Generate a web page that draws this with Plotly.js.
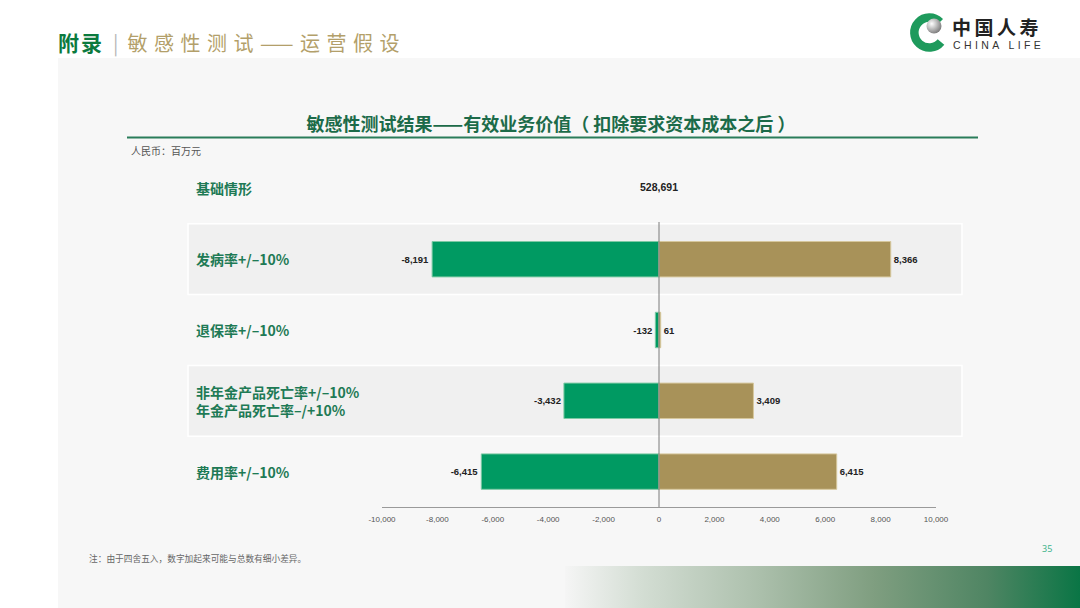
<!DOCTYPE html>
<html>
<head>
<meta charset="utf-8">
<script src="https://cdn.plot.ly/plotly-3.0.1.min.js"></script>
<style>
  html, body { margin: 0; padding: 0; background: #ffffff; }
  #wrap { position: relative; width: 1080px; height: 608px; overflow: hidden; background: #ffffff; }
  #panel { position: absolute; left: 58px; top: 58px; right: 0; bottom: 0; background: #f7f7f7; }
  #grad { position: absolute; left: 565px; top: 566px; right: 0; bottom: 0;
          background: linear-gradient(to right, #f5f5f5 0%, #d3ddd3 15%, #abbfab 38%, #7f9e80 60%, #4f8563 82%, #0a7545 100%); }
  #chart { position: absolute; left: 0; top: 0; width: 1080px; height: 608px; }
  #hdr { position: absolute; left: 58px; top: 27px; height: 30px; white-space: nowrap;
         font-family: "Noto Sans CJK SC", sans-serif; }
  #hdr .a { font-size: 21px; font-weight: 700; color: #0b7a3e; letter-spacing: 2px; }
  #hdr .b { font-size: 20px; color: #b8b8b8; margin: 0 9px 0 9px; }
  #hdr .c { font-size: 20px; color: #b39f6a; letter-spacing: 6.5px; }
  #logo { position: absolute; left: 900px; top: 8px; }
</style>
</head>
<body>
<div id="wrap">
  <div id="panel"></div>
  <div id="grad"></div>
  <div id="chart"></div>
  <div id="hdr"><span class="a">附录</span><span class="b">|</span><span class="c">敏感性测试——运营假设</span></div>
  <svg id="logo" width="170" height="48" viewBox="0 0 170 48">
    <defs>
      <radialGradient id="ball" cx="0.35" cy="0.35" r="0.7">
        <stop offset="0" stop-color="#ffffff"/>
        <stop offset="0.5" stop-color="#bdbdbd"/>
        <stop offset="1" stop-color="#7a7a7a"/>
      </radialGradient>
    </defs>
    <path d="M 40 14 A 15 15 0 1 0 41 34" fill="none" stroke="#1e9a5c" stroke-width="8.5" stroke-linecap="butt"/>
    <circle cx="34" cy="18" r="7.5" fill="url(#ball)"/>
    <text x="52" y="27" font-family="Noto Sans CJK SC" font-weight="700" font-size="19" letter-spacing="3.5" fill="#222">中国人寿</text>
    <text x="53" y="41" font-family="Liberation Sans" font-size="10.5" letter-spacing="3.4" fill="#333">CHINA LIFE</text>
  </svg>
</div>
<script>
// ---- data ----
const categories = [
  '基础情形',
  '发病率+/–10%',
  '退保率+/–10%',
  '非年金产品死亡率+/–10%<br>年金产品死亡率–/+10%',
  '费用率+/–10%'
];
const baseCategory = ['基础情形'];
const baseValue = [528691];
const sensCategories = categories.slice(1);
const downValues = [-8191, -132, -3432, -6415];
const upValues = [8366, 61, 3409, 6415];
const tickVals = [-10000, -8000, -6000, -4000, -2000, 0, 2000, 4000, 6000, 8000, 10000];
const tickLabels = ['-10,000', '-8,000', '-6,000', '-4,000', '-2,000', '0', '2,000', '4,000', '6,000', '8,000', '10,000'];

function fmt(v) {
  const s = Math.abs(v).toLocaleString('en-US');
  return v < 0 ? '-' + s : s;
}

// pixel helpers for decorations (plot area: x 382..936, y 155..507)
const L = 382, R = 936, T = 153, B = 507;
const px = p => (p - L) / (R - L);
const py = p => (B - p) / (B - T);

const numFont = { family: 'Liberation Sans, Arial, sans-serif', size: 9.5, color: '#222', weight: 'bold' };

const traces = [
  {
    type: 'bar', orientation: 'h', name: '下降',
    y: sensCategories, x: downValues,
    width: 0.5,
    marker: { color: '#009a62', line: { color: '#7cc9a4', width: 1 } },
    text: downValues.map(fmt), textposition: 'outside', cliponaxis: false,
    outsidetextfont: numFont, textfont: numFont, constraintext: 'none',
    hoverinfo: 'skip'
  },
  {
    type: 'bar', orientation: 'h', name: '上升',
    y: sensCategories, x: upValues,
    width: 0.5,
    marker: { color: '#a89259', line: { color: '#d6c79c', width: 1 } },
    text: upValues.map(fmt), textposition: 'outside', cliponaxis: false,
    outsidetextfont: numFont, textfont: numFont, constraintext: 'none',
    hoverinfo: 'skip'
  },
  {
    type: 'scatter', mode: 'text', name: '基础情形',
    y: baseCategory, x: [0],
    text: baseValue.map(fmt), textposition: 'middle center',
    textfont: { family: 'Liberation Sans, Arial, sans-serif', size: 10.5, color: '#222', weight: 'bold' },
    cliponaxis: false, hoverinfo: 'skip'
  }
];

const shapes = [
  // alternating row bands
  { type: 'rect', layer: 'below', xref: 'paper', yref: 'y', x0: px(188), x1: px(962), y0: 0.5, y1: 1.5,
    fillcolor: '#f0f0f0', line: { color: '#ffffff', width: 1.5 } },
  { type: 'rect', layer: 'below', xref: 'paper', yref: 'y', x0: px(188), x1: px(962), y0: 2.5, y1: 3.5,
    fillcolor: '#f0f0f0', line: { color: '#ffffff', width: 1.5 } },
  // zero line
  { type: 'line', layer: 'above', xref: 'x', yref: 'paper', x0: 0, x1: 0, y0: 0, y1: py(222),
    line: { color: '#7a7a7a', width: 1 } },
  // green rule under title
  { type: 'line', xref: 'paper', yref: 'paper', x0: px(127), x1: px(978), y0: py(137.5), y1: py(137.5),
    line: { color: '#2a7d5a', width: 2.2 } }
];

const annotations = categories.map(c => ({
  xref: 'paper', yref: 'y', x: px(194), y: c, xanchor: 'left', yanchor: 'middle', align: 'left',
  text: c, showarrow: false,
  font: { family: 'Noto Sans CJK SC, sans-serif', size: 14, color: '#1e7a55', weight: 'bold' }
}));
annotations.push(
  { xref: 'paper', yref: 'paper', x: px(129), y: py(150), xanchor: 'left', yanchor: 'middle',
    text: '人民币：百万元', showarrow: false,
    font: { family: 'Noto Sans CJK SC, sans-serif', size: 10, color: '#555' } },
  { xref: 'paper', yref: 'paper', x: px(87), y: py(558), xanchor: 'left', yanchor: 'middle',
    text: '注：由于四舍五入，数字加起来可能与总数有细小差异。', showarrow: false,
    font: { family: 'Noto Sans CJK SC, sans-serif', size: 8.7, color: '#666' } },
  { xref: 'paper', yref: 'paper', x: px(1047), y: py(548), xanchor: 'center', yanchor: 'middle',
    text: '35', showarrow: false,
    font: { family: 'Noto Sans, sans-serif', size: 9, color: '#3fb48c' } }
);

const layout = {
  width: 1080, height: 608,
  margin: { l: L, r: 1080 - R, t: T, b: 608 - B, pad: 0 },
  paper_bgcolor: 'rgba(0,0,0,0)', plot_bgcolor: 'rgba(0,0,0,0)',
  barmode: 'relative',
  showlegend: false,
  title: {
    text: '敏感性测试结果——有效业务价值（ 扣除要求资本成本之后 ）',
    x: 551 / 1080, xref: 'container', xanchor: 'center',
    y: 1 - 125 / 608, yref: 'container', yanchor: 'middle',
    font: { family: 'Noto Sans CJK SC, sans-serif', size: 18, color: '#1c6b49', weight: 'bold' }
  },
  xaxis: {
    range: [-10000, 10000], fixedrange: true,
    tickvals: tickVals, ticktext: tickLabels,
    showgrid: false, zeroline: false,
    showline: true, linecolor: '#9a9a9a', linewidth: 1,
    ticks: '', ticklabelstandoff: 4,
    tickfont: { family: 'Liberation Sans, Arial, sans-serif', size: 8, color: '#555' }
  },
  yaxis: {
    type: 'category', categoryorder: 'array', categoryarray: categories,
    range: [4.5, -0.5], fixedrange: true,
    showticklabels: false, showgrid: false, zeroline: false, showline: false, ticks: ''
  },
  shapes: shapes,
  annotations: annotations,
  font: { family: 'Noto Sans CJK SC, sans-serif' }
};

Plotly.newPlot('chart', traces, layout, { displayModeBar: false, staticPlot: true });
</script>
</body>
</html>
